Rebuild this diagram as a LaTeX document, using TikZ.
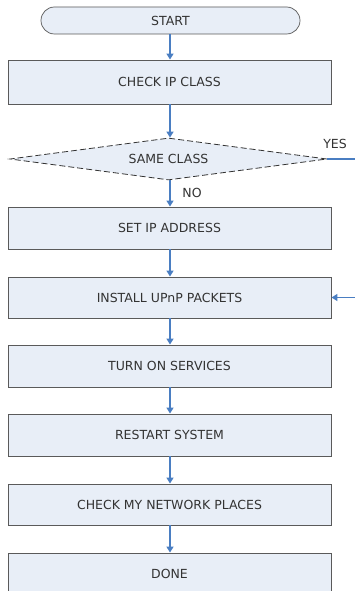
\documentclass[tikz,border=0pt]{standalone}
\usepackage{fontspec}
\setmainfont{DejaVu Sans}
\usetikzlibrary{arrows.meta,shapes.geometric,shapes.misc}
\definecolor{boxfill}{HTML}{E8EEF7}
\definecolor{boxline}{HTML}{5A5A5A}
\definecolor{arrowblue}{HTML}{4A7EC2}
\begin{document}
\begin{tikzpicture}[x=1pt,y=-1pt,
  lbl/.style={font=\fontsize{12.5}{15}\selectfont, text=black!80},
  stepbox/.style={lbl, draw=boxline, fill=boxfill, line width=0.9pt,
    minimum width=323pt, minimum height=42pt, inner sep=0pt},
  termbox/.style={lbl, rounded rectangle, draw=boxline, fill=boxfill, line width=0.7pt,
    minimum width=259pt, minimum height=27pt, inner sep=0pt},
  decbox/.style={lbl, diamond, draw=black!80, fill=boxfill, line width=0.8pt,
    dash pattern=on 6pt off 3pt, minimum width=317pt, minimum height=42pt, inner sep=0pt, aspect=7.5},
  flow/.style={draw=arrowblue, line width=1.5pt, -{Triangle[width=7pt,length=6pt]}},
  plain/.style={draw=arrowblue, line width=1.5pt}
]
\useasboundingbox (0,0) rectangle (355,591);
\fill[white] (0,0) rectangle (355,591);

\node[termbox] (start) at (170.5,20.5) {START};
\node[stepbox, minimum height=44pt] (check) at (169.5,82) {CHECK IP CLASS};
\node[decbox] (same) at (168.5,159) {SAME CLASS};
\node[stepbox] (setip) at (169.5,228) {SET IP ADDRESS};
\node[stepbox, minimum height=41pt] (install) at (169.5,297.5) {INSTALL UPnP PACKETS};
\node[stepbox] (turnon) at (169.5,366) {TURN ON SERVICES};
\node[stepbox] (restart) at (169.5,435) {RESTART SYSTEM};
\node[stepbox, minimum height=41pt] (netw) at (169.5,504.5) {CHECK MY NETWORK PLACES};
\node[stepbox] (done) at (169.5,574) {DONE};

\node[lbl] (yes) at (335,144) {YES};
\node[lbl] (no) at (192,193) {NO};

\coordinate (yturn) at (380,159);

\draw[flow] (start.south -| 170,0) -- (check.north -| 170,0);
\draw[flow] (check.south -| 170,0) -- (same.north -| 170,0);
\draw[flow] (same.south -| 170,0) -- (setip.north -| 170,0);
\draw[flow] (setip.south -| 170,0) -- (install.north -| 170,0);
\draw[flow] (install.south -| 170,0) -- (turnon.north -| 170,0);
\draw[flow] (turnon.south -| 170,0) -- (restart.north -| 170,0);
\draw[flow] (restart.south -| 170,0) -- (netw.north -| 170,0);
\draw[flow] (netw.south -| 170,0) -- (done.north -| 170,0);
\draw[flow] (same.east) -- (yturn) |- (install.east);
\end{tikzpicture}
\end{document}
